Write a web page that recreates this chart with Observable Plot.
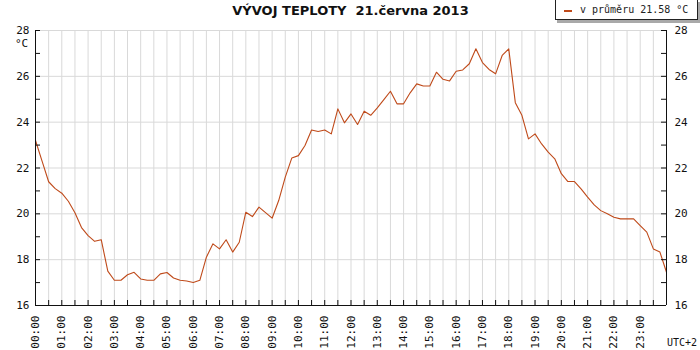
<!DOCTYPE html>
<html>
<head>
<meta charset="utf-8">
<script src="https://cdn.jsdelivr.net/npm/d3@7"></script>
<script src="https://cdn.jsdelivr.net/npm/@observablehq/plot@0.6"></script>
<style>
  body { margin: 0; background: #fff; }
  #wrap { position: relative; width: 700px; height: 350px; overflow: hidden; }
  #wrap svg { position: absolute; left: 0; top: 0; }
  .title { position: absolute; left: 0; width: 701px; top: 3px; text-align: center;
           font: bold 13px "DejaVu Sans"; color: #111; white-space: pre; }
  .legend { position: absolute; left: 555px; top: -1px; width: 141px; height: 19px;
            border: 1px solid #222; background: #fff; box-shadow: 2px 3px 0 #a9a9a9; }
  .legend .sw { position: absolute; left: 8px; top: 10px; width: 8px; height: 2px; }
  .legend .tx { position: absolute; left: 24px; top: 4px; font: 10px "DejaVu Sans Mono"; color: #222; white-space: pre; }
  .unit { position: absolute; left: 15px; top: 37px; font: 11px "DejaVu Sans Mono"; color: #111; }
  .tz { position: absolute; left: 667px; top: 337px; font: 10px "DejaVu Sans Mono"; color: #111; }
</style>
</head>
<body>
<div id="wrap"></div>
<script>
const titleText = "VÝVOJ TEPLOTY  21.června 2013";
const legendText = "v průměru 21.58 °C";
const unitText = "°C";
const zoneText = "UTC+2";
const lineColor = "#bf4a1a";

const times = [
  "00:00","00:15","00:30","00:45","01:00","01:15","01:30","01:45",
  "02:00","02:15","02:30","02:45","03:00","03:15","03:30","03:45",
  "04:00","04:15","04:30","04:45","05:00","05:15","05:30","05:45",
  "06:00","06:15","06:30","06:45","07:00","07:15","07:30","07:45",
  "08:00","08:15","08:30","08:45","09:00","09:15","09:30","09:45",
  "10:00","10:15","10:30","10:45","11:00","11:15","11:30","11:45",
  "12:00","12:15","12:30","12:45","13:00","13:15","13:30","13:45",
  "14:00","14:15","14:30","14:45","15:00","15:15","15:30","15:45",
  "16:00","16:15","16:30","16:45","17:00","17:15","17:30","17:45",
  "18:00","18:15","18:30","18:45","19:00","19:15","19:30","19:45",
  "20:00","20:15","20:30","20:45","21:00","21:15","21:30","21:45",
  "22:00","22:15","22:30","22:45","23:00","23:15","23:30","23:45","24:00"
];
const temps = [
  23.2, 22.3, 21.4, 21.1, 20.9, 20.55, 20.05, 19.4,
  19.05, 18.8, 18.87, 17.5, 17.1, 17.1, 17.34, 17.45,
  17.16, 17.1, 17.1, 17.38, 17.44, 17.2, 17.1, 17.07,
  17.0, 17.1, 18.11, 18.69, 18.47, 18.87, 18.33, 18.76,
  20.07, 19.88, 20.29, 20.05, 19.81, 20.58, 21.6, 22.44,
  22.54, 22.98, 23.66, 23.59, 23.66, 23.49, 24.58, 23.97,
  24.36, 23.9, 24.48, 24.3, 24.62, 24.98, 25.35, 24.8,
  24.8, 25.28, 25.67, 25.58, 25.58, 26.18, 25.87, 25.8,
  26.22, 26.28, 26.55, 27.2, 26.6, 26.3, 26.11, 26.91,
  27.2, 24.85, 24.3, 23.27, 23.49, 23.05, 22.69, 22.4,
  21.75, 21.41, 21.41, 21.09, 20.73, 20.39, 20.14, 20.0,
  19.85, 19.78, 19.78, 19.78, 19.49, 19.2, 18.47, 18.33, 17.45
];
const yLabels = [16, 18, 20, 22, 24, 26, 28];
const yMinor = [17, 19, 21, 23, 25, 27];
const hourLabels = ["00:00","01:00","02:00","03:00","04:00","05:00","06:00","07:00",
  "08:00","09:00","10:00","11:00","12:00","13:00","14:00","15:00",
  "16:00","17:00","18:00","19:00","20:00","21:00","22:00","23:00"];

const toH = s => { const [h, m] = s.split(":").map(Number); return h + m / 60; };
const data = times.map((t, i) => ({h: toH(t), t: temps[i]}));
const hourVals = hourLabels.map(toH);
const halfHours = d3.range(0, 48.5).map(i => i / 2);
const innerGridX = halfHours.filter(v => v > 0 && v < 24);
const yAll = [...yLabels, ...yMinor];

const W = 700, H = 350, mL = 35, mR = 34, mT = 30, mB = 45;
const iw = W - mL - mR, ih = H - mT - mB, tk = 5;

const chart = Plot.plot({
  width: W, height: H,
  marginLeft: mL, marginRight: mR, marginTop: mT, marginBottom: mB,
  style: {fontFamily: "DejaVu Sans Mono", fontSize: "11px", background: "white", color: "#111"},
  x: {type: "linear", domain: [0, 24]},
  y: {domain: [16, 28]},
  marks: [
    Plot.gridX(innerGridX, {stroke: "#d9d9d9", strokeOpacity: 1}),
    Plot.gridY(yLabels.filter(v => v > 16), {stroke: "#d9d9d9", strokeOpacity: 1}),
    Plot.line(data, {x: "h", y: "t", stroke: lineColor, strokeWidth: 1.1}),
    Plot.ruleX([0, 24], {stroke: "#111"}),
    Plot.ruleY([16], {stroke: "#111"}),
    Plot.tickY(yAll, {y: d => d, insetRight: iw - tk, stroke: "#111"}),
    Plot.tickY(yAll, {y: d => d, insetLeft: iw - tk, stroke: "#111"}),
    Plot.tickX(halfHours, {x: d => d, insetTop: ih - tk, stroke: "#111"}),
    Plot.axisY(yLabels, {anchor: "left", tickSize: 0, tickPadding: 6, label: null}),
    Plot.axisY(yLabels, {anchor: "right", tickSize: 0, tickPadding: 8, label: null}),
    Plot.axisX(hourVals, {anchor: "bottom", tickSize: 0, tickPadding: 10, tickRotate: -90,
      tickFormat: (d, i) => hourLabels[i], label: null})
  ]
});

const wrap = document.getElementById("wrap");
wrap.appendChild(chart);

const title = document.createElement("div");
title.className = "title"; title.textContent = titleText; wrap.appendChild(title);

const legend = document.createElement("div");
legend.className = "legend";
const sw = document.createElement("div"); sw.className = "sw"; sw.style.background = lineColor;
const tx = document.createElement("div"); tx.className = "tx"; tx.textContent = legendText;
legend.appendChild(sw); legend.appendChild(tx); wrap.appendChild(legend);

const unit = document.createElement("div"); unit.className = "unit"; unit.textContent = unitText; wrap.appendChild(unit);
const tz = document.createElement("div"); tz.className = "tz"; tz.textContent = zoneText; wrap.appendChild(tz);
</script>
</body>
</html>
